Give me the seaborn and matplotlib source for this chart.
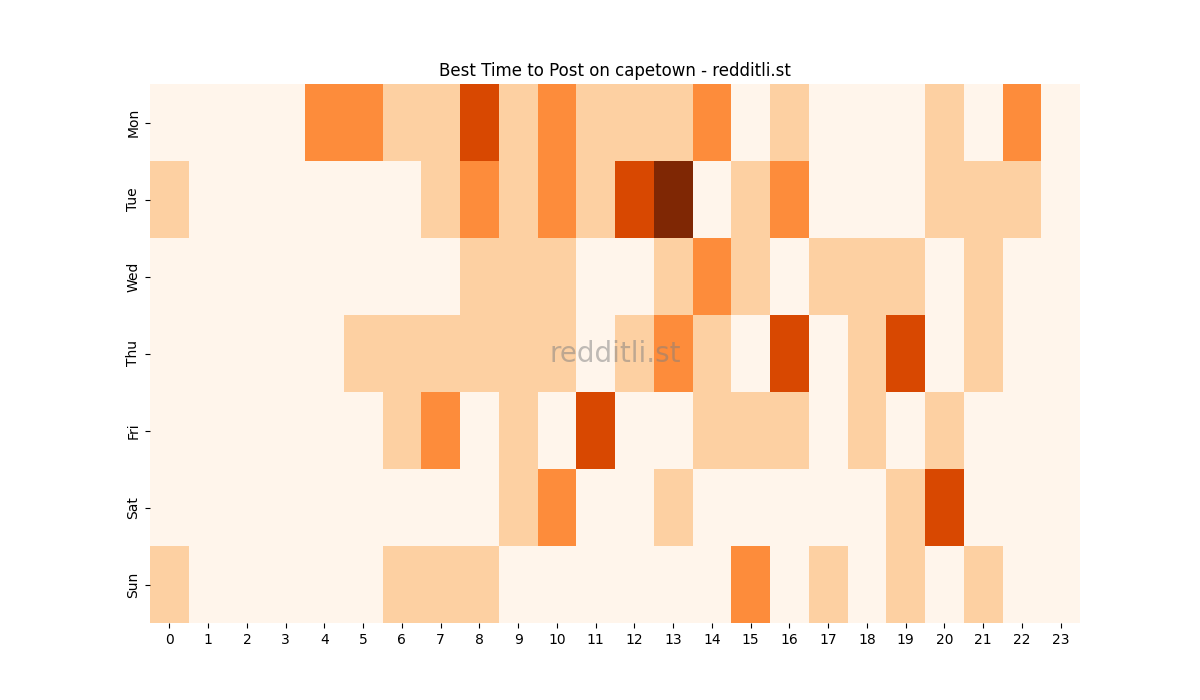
import numpy as np
import pandas as pd
import matplotlib
matplotlib.use("Agg")
import matplotlib.pyplot as plt
import seaborn as sns

# Activity level per day/hour (0 = lowest, 4 = highest)
days = ["Mon", "Tue", "Wed", "Thu", "Fri", "Sat", "Sun"]
hours = list(range(24))

mon = [0, 0, 0, 0, 2, 2, 1, 1, 3, 1, 2, 1, 1, 1, 2, 0, 1, 0, 0, 0, 1, 0, 2, 0]
tue = [1, 0, 0, 0, 0, 0, 0, 1, 2, 1, 2, 1, 3, 4, 0, 1, 2, 0, 0, 0, 1, 1, 1, 0]
wed = [0, 0, 0, 0, 0, 0, 0, 0, 1, 1, 1, 0, 0, 1, 2, 1, 0, 1, 1, 1, 0, 1, 0, 0]
thu = [0, 0, 0, 0, 0, 1, 1, 1, 1, 1, 1, 0, 1, 2, 1, 0, 3, 0, 1, 3, 0, 1, 0, 0]
fri = [0, 0, 0, 0, 0, 0, 1, 2, 0, 1, 0, 3, 0, 0, 1, 1, 1, 0, 1, 0, 1, 0, 0, 0]
sat = [0, 0, 0, 0, 0, 0, 0, 0, 0, 1, 2, 0, 0, 1, 0, 0, 0, 0, 0, 1, 3, 0, 0, 0]
sun = [1, 0, 0, 0, 0, 0, 1, 1, 1, 0, 0, 0, 0, 0, 0, 2, 0, 1, 0, 1, 0, 1, 0, 0]

df = pd.DataFrame([mon, tue, wed, thu, fri, sat, sun], index=days, columns=hours)

fig, ax = plt.subplots(figsize=(12, 7), dpi=100)
sns.heatmap(df, cmap="Oranges", cbar=False, vmin=0, vmax=4, ax=ax)
ax.set_title("Best Time to Post on capetown - redditli.st")
ax.set_yticklabels(days, rotation=90, va="center")
ax.set_xticklabels(hours, rotation=0)

# Watermark
ax.text(0.5, 0.5, "redditli.st", transform=ax.transAxes, ha="center", va="center",
        fontsize=20, color="gray", alpha=0.5)

plt.savefig("out.png")
plt.close()
